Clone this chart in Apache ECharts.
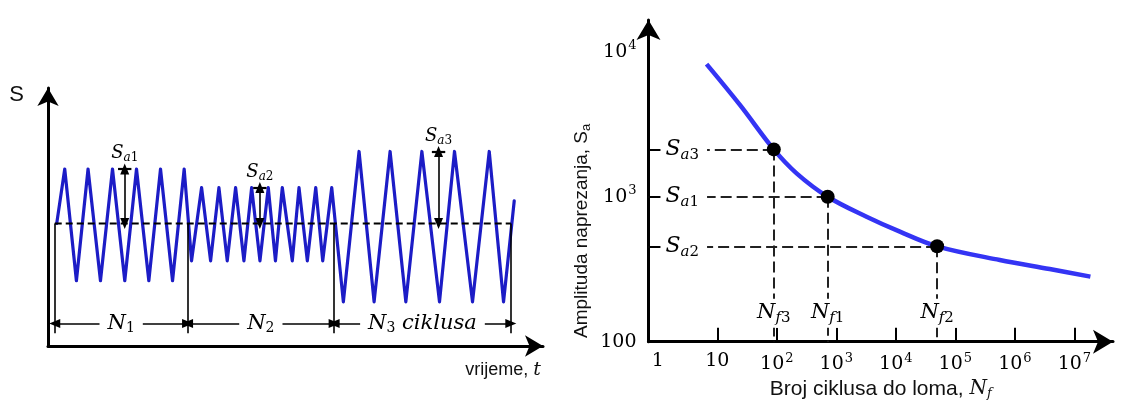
<!DOCTYPE html>
<html><head><meta charset="utf-8">
<script src="https://cdn.jsdelivr.net/npm/echarts@6/dist/echarts.min.js"></script>
<style>html,body{margin:0;padding:0;background:#fff}#c{width:1125px;height:409px}</style>
</head><body><div id="c"></div>
<script>
// ---------- Left panel: stress history (arbitrary units) ----------
const leftTime = [1.76, 3.38, 5.74, 8.09, 10.60, 13.03, 15.51, 17.88, 20.37, 22.73, 25.16, 27.51,
  29.00, 31.03, 32.85, 34.53, 36.21, 37.90, 39.58, 41.14, 42.82, 44.50, 45.95, 47.33, 49.35, 50.71, 52.39, 54.09, 55.50, 57.32,
  59.67, 62.84, 65.88, 69.11, 72.29, 75.53, 79.09, 82.12, 85.76, 89.14, 92.03, 94.19];
const leftStress = [47.5, 68.6, 25.3, 68.6, 25.3, 68.6, 25.3, 68.6, 25.3, 68.6, 25.3, 68.6,
  33.0, 61.4, 33.0, 61.4, 33.0, 61.4, 33.0, 61.4, 33.0, 61.4, 33.0, 61.4, 33.0, 61.4, 33.0, 61.4, 33.0, 61.4,
  17.1, 75.4, 17.1, 75.4, 17.1, 75.4, 17.1, 75.4, 17.1, 75.4, 17.1, 56.3];
const meanStress = 47.5;
const blockBounds = [1.36, 28.2, 57.8, 93.5];
const blockNames = ['{i|N}{sd|1}', '{i|N}{sd|2}', '{i|N}{sd|3}{i| ciklusa}'];
const ampTime = [15.5, 42.8, 78.9];
const ampPeak = [68.6, 61.4, 75.4];
const ampNames = ['1', '2', '3'];

// ---------- Right panel: S-N curve ----------
const curveN = [6.6, 24, 89, 215, 715, 3220, 11700, 49400, 558000, 3850000, 18600000];
const curveS = [8220, 4300, 2120, 1450, 1000, 728, 574, 455, 366, 317, 281];
const pointN = [89, 715, 49400];
const pointS = [2120, 1000, 455];
const pointIds = ['3', '1', '2'];
const xTickValues = [1, 10, 1e2, 1e3, 1e4, 1e5, 1e6, 1e7];
const xTickLabels = ['1', '10', '10^2', '10^3', '10^4', '10^5', '10^6', '10^7'];
const yTickValues = [100, 1000, 10000];
const yTickLabels = ['100', '10^3', '10^4'];

const X_MIN = 0.698, X_MAX = 4.46e7, Y_MIN = 100, Y_MAX = 16560;
const DIM_Y = 8.7, DIM_BOTTOM = 4.9, CAP_HALF = 1.35;

const SERIF = '"DejaVu Serif", "Liberation Serif", serif';
const SANS = '"Liberation Sans", Arial, sans-serif';
const INK = '#000';

function findIdx(arr, v) {
  return arr.findIndex(a => Math.abs(Math.log10(a) - Math.log10(v)) < 1e-3);
}
function powLabel(s) {
  const p = s.split('^');
  return p.length > 1 ? '{b|' + p[0] + '}{sup|' + p[1] + '}' : '{b|' + p[0] + '}';
}
const tickRich = {
  b: {fontFamily: SERIF, fontSize: 19, color: INK},
  sup: {fontFamily: SERIF, fontSize: 13, color: INK, padding: [0, 0, 12, 1]}
};
const mathRichSmall = {
  i: {fontFamily: SERIF, fontStyle: 'italic', fontSize: 18, color: INK},
  si: {fontFamily: SERIF, fontStyle: 'italic', fontSize: 12, color: INK, padding: [9, 0, 0, 0]},
  sd: {fontFamily: SERIF, fontSize: 12, color: INK, padding: [9, 0, 0, 0]}
};
const mathRichN = {
  i: {fontFamily: SERIF, fontStyle: 'italic', fontSize: 21, color: INK},
  sd: {fontFamily: SERIF, fontSize: 14, color: INK, padding: [10, 0, 0, 0]}
};
const mathRichBig = {
  i: {fontFamily: SERIF, fontStyle: 'italic', fontSize: 22, color: INK},
  si: {fontFamily: SERIF, fontStyle: 'italic', fontSize: 15, color: INK, padding: [11, 0, 0, 0]},
  sd: {fontFamily: SERIF, fontSize: 15, color: INK, padding: [11, 0, 0, 0]}
};

const zig = leftTime.map((t, i) => [t, leftStress[i]]);
const thin = {color: INK, width: 1.6, type: 'solid'};
const tri = {symbol: 'triangle', symbolSize: [9, 11]};

const leftMarks = [];
blockBounds.forEach(b => leftMarks.push([{coord: [b, meanStress], lineStyle: thin}, {coord: [b, DIM_BOTTOM]}]));
for (let i = 0; i < 3; i++) {
  leftMarks.push([Object.assign({coord: [blockBounds[i], DIM_Y], lineStyle: thin}, tri),
                  Object.assign({coord: [blockBounds[i + 1], DIM_Y]}, tri)]);
  leftMarks.push([Object.assign({coord: [ampTime[i], ampPeak[i]], lineStyle: thin}, tri),
                  Object.assign({coord: [ampTime[i], meanStress]}, tri)]);
  leftMarks.push([{coord: [ampTime[i] - CAP_HALF, ampPeak[i]], lineStyle: {color: INK, width: 2.2, type: 'solid'}},
                  {coord: [ampTime[i] + CAP_HALF, ampPeak[i]]}]);
}

const leftTexts = [];
for (let i = 0; i < 3; i++) {
  leftTexts.push({value: [ampTime[i], ampPeak[i]],
    label: {position: 'top', distance: 5, formatter: '{i|S}{si|a}{sd|' + ampNames[i] + '}', rich: mathRichSmall}});
  leftTexts.push({value: [(blockBounds[i] + blockBounds[i + 1]) / 2, DIM_Y],
    label: {position: 'inside', formatter: blockNames[i], backgroundColor: '#fff', padding: [0, 8, 0, 8], rich: mathRichN}});
}

const guideMarks = [];
pointN.forEach((n, i) => {
  guideMarks.push([{coord: [n, pointS[i]]}, {coord: [X_MIN, pointS[i]]}]);
  guideMarks.push([{coord: [n, pointS[i]]}, {coord: [n, Y_MIN]}]);
});

const option = {
  animation: false,
  backgroundColor: '#fff',
  grid: [
    {left: 48, top: 88, right: 582, bottom: 63},
    {left: 648.5, top: 20, right: 12, bottom: 67.3}
  ],
  xAxis: [
    {gridIndex: 0, type: 'value', min: 0, max: 100,
     axisLine: {show: true, symbol: ['none', 'arrow'], symbolSize: [16, 18], lineStyle: {color: '#000', width: 3}},
     axisTick: {show: false}, axisLabel: {show: false}, splitLine: {show: false},
     name: '{s|vrijeme, }{i|t}', nameLocation: 'end', nameGap: -2,
     nameTextStyle: {align: 'right', verticalAlign: 'top', padding: [15, 0, 0, 0],
       rich: {s: {fontFamily: SANS, fontSize: 18, color: '#111'}, i: {fontFamily: SERIF, fontStyle: 'italic', fontSize: 19, color: '#111'}}}},
    {gridIndex: 1, type: 'log', min: X_MIN, max: X_MAX,
     axisLine: {show: true, symbol: ['none', 'arrow'], symbolSize: [18, 20], lineStyle: {color: '#000', width: 3}},
     axisTick: {show: true, inside: true, length: 14, customValues: xTickValues.slice(1), lineStyle: {color: '#000', width: 2}},
     axisLabel: {show: true, margin: 10, customValues: xTickValues,
       formatter: v => { const k = findIdx(xTickValues, v); return k < 0 ? '' : powLabel(xTickLabels[k]); }, rich: tickRich},
     splitLine: {show: false}, minorTick: {show: false},
     name: '{t|Broj ciklusa do loma, }{i|N}{si|f}', nameLocation: 'middle', nameGap: 35,
     nameTextStyle: {rich: {t: {fontFamily: SANS, fontSize: 21, color: '#111'},
       i: {fontFamily: SERIF, fontStyle: 'italic', fontSize: 20, color: '#111'},
       si: {fontFamily: SERIF, fontStyle: 'italic', fontSize: 13, color: '#111', padding: [9, 0, 0, 0]}}}},
    {gridIndex: 1, type: 'log', min: X_MIN, max: X_MAX, position: 'bottom', z: 10,
     axisLine: {show: false}, axisTick: {show: false}, splitLine: {show: false},
     axisLabel: {show: true, inside: true, margin: 14, customValues: pointN, backgroundColor: '#fff', padding: [1, 3, 2, 3],
       formatter: v => { const k = findIdx(pointN, v); return k < 0 ? '' : '{i|N}{si|f}{sd|' + pointIds[k] + '}'; },
       rich: {i: {fontFamily: SERIF, fontStyle: 'italic', fontSize: 21, color: INK},
              si: {fontFamily: SERIF, fontStyle: 'italic', fontSize: 15, color: INK, padding: [11, 0, 0, 0]},
              sd: {fontFamily: SERIF, fontSize: 15, color: INK, padding: [11, 0, 0, 0]}}}}
  ],
  yAxis: [
    {gridIndex: 0, type: 'value', min: 0, max: 100,
     axisLine: {show: true, symbol: ['none', 'arrow'], symbolSize: [16, 18], lineStyle: {color: '#000', width: 3}},
     axisTick: {show: false}, axisLabel: {show: false}, splitLine: {show: false},
     name: 'S', nameLocation: 'end', nameGap: -7,
     nameTextStyle: {fontFamily: SANS, fontSize: 22, color: '#111', align: 'right', verticalAlign: 'middle', padding: [0, 24, 0, 0]}},
    {gridIndex: 1, type: 'log', min: Y_MIN, max: Y_MAX,
     axisLine: {show: true, symbol: ['none', 'arrow'], symbolSize: [18, 20], lineStyle: {color: '#000', width: 3}},
     axisTick: {show: false},
     axisLabel: {show: true, margin: 12, customValues: yTickValues,
       formatter: v => { const k = findIdx(yTickValues, v); return k < 0 ? '' : powLabel(yTickLabels[k]); }, rich: tickRich},
     splitLine: {show: false}, minorTick: {show: false},
     name: '{t|Amplituda naprezanja, S}{s|a}', nameLocation: 'middle', nameGap: 56,
     nameTextStyle: {padding: [0, 100, 0, 0], rich: {t: {fontFamily: SANS, fontSize: 19, color: '#111'},
       s: {fontFamily: SANS, fontSize: 13, color: '#111', padding: [8, 0, 0, 0]}}}},
    {gridIndex: 1, type: 'log', min: Y_MIN, max: Y_MAX, position: 'left', z: 10,
     axisLine: {show: false}, splitLine: {show: false},
     axisTick: {show: true, inside: true, length: 12, customValues: pointS, lineStyle: {color: '#000', width: 2}},
     axisLabel: {show: true, inside: true, margin: 12, customValues: pointS, backgroundColor: '#fff', padding: [1, 8, 1, 5],
       formatter: v => { const k = findIdx(pointS, v); return k < 0 ? '' : '{i|S}{si|a}{sd|' + pointIds[k] + '}'; },
       rich: mathRichBig}}
  ],
  series: [
    {type: 'line', xAxisIndex: 0, yAxisIndex: 0, data: zig, symbol: 'none', z: 3,
     lineStyle: {color: '#1c1cc6', width: 3.2, join: 'round', cap: 'round'}},
    {type: 'line', xAxisIndex: 0, yAxisIndex: 0, symbol: 'none', z: 4,
     data: [[blockBounds[0], meanStress], [blockBounds[3], meanStress]],
     lineStyle: {color: INK, width: 2, type: [7, 4]},
     markLine: {silent: true, symbol: 'none', label: {show: false}, emphasis: {disabled: true}, lineStyle: thin, data: leftMarks}},
    {type: 'scatter', xAxisIndex: 0, yAxisIndex: 0, symbolSize: 0, z: 6, silent: true,
     itemStyle: {opacity: 1}, label: {show: true, opacity: 1}, data: leftTexts},
    {type: 'line', xAxisIndex: 1, yAxisIndex: 1, data: curveN.map((n, i) => [n, curveS[i]]), symbol: 'none', smooth: 0.35, z: 3,
     lineStyle: {color: '#3434f4', width: 4.5}},
    {type: 'scatter', xAxisIndex: 1, yAxisIndex: 1, data: pointN.map((n, i) => [n, pointS[i]]), symbolSize: 14, z: 5,
     itemStyle: {color: '#000', opacity: 1},
     markLine: {silent: true, symbol: 'none', label: {show: false}, emphasis: {disabled: true},
       lineStyle: {color: '#222', width: 2, type: [11, 5]}, data: guideMarks}}
  ]
};
const chart = echarts.init(document.getElementById('c'));
chart.setOption(option);
</script></body></html>
